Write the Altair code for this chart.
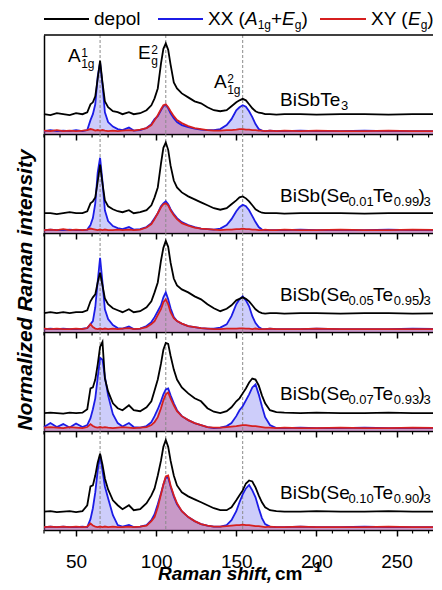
import altair as alt
import pandas as pd

# ---------------- data ----------------
SHIFT = [30, 34, 38, 42, 46, 50, 54, 57, 59, 60.5,
         62, 63.5, 65, 66.5, 68, 70, 73, 76, 79, 83,
         86, 90, 94, 97, 99, 101, 103, 104.5, 106, 107.5,
         109, 111, 113, 116, 120, 124, 128, 132, 136, 140,
         144, 147, 150, 152, 154, 156, 158, 160, 162, 164,
         166, 168, 171, 175, 180, 190, 200, 215, 230, 245, 260, 279]

DEPOL_1 = [0.20, 0.19, 0.21, 0.20, 0.19, 0.21, 0.20, 0.22, 0.30, 0.32,
           0.38, 0.56, 0.74, 0.52, 0.33, 0.27, 0.23, 0.22, 0.20, 0.22,
           0.20, 0.21, 0.24, 0.29, 0.36, 0.46, 0.71, 0.86, 0.915, 0.85,
           0.70, 0.52, 0.46, 0.41, 0.37, 0.33, 0.31, 0.27, 0.24, 0.23,
           0.24, 0.28, 0.32, 0.34, 0.355, 0.34, 0.30, 0.26, 0.23, 0.215,
           0.21, 0.20, 0.20, 0.195, 0.20, 0.20, 0.195, 0.20, 0.20, 0.195, 0.20, 0.20]
XX_1 = [0.03, 0.04, 0.03, 0.035, 0.03, 0.04, 0.03, 0.04, 0.14, 0.20,
        0.30, 0.58, 0.72, 0.50, 0.22, 0.12, 0.075, 0.05, 0.04, 0.065,
        0.035, 0.04, 0.06, 0.10, 0.15, 0.18, 0.24, 0.28, 0.295, 0.26,
        0.21, 0.16, 0.12, 0.09, 0.07, 0.055, 0.045, 0.04, 0.04, 0.05,
        0.09, 0.15, 0.24, 0.27, 0.29, 0.275, 0.23, 0.17, 0.10, 0.05,
        0.035, 0.03, 0.035, 0.03, 0.03, 0.035, 0.03, 0.03, 0.035, 0.03, 0.03, 0.03]
XY_1 = [0.035, 0.03, 0.04, 0.03, 0.035, 0.03, 0.035, 0.04, 0.05, 0.045,
        0.035, 0.04, 0.035, 0.04, 0.035, 0.03, 0.035, 0.03, 0.035, 0.04,
        0.035, 0.045, 0.06, 0.09, 0.14, 0.19, 0.25, 0.29, 0.30, 0.27,
        0.23, 0.18, 0.14, 0.11, 0.08, 0.06, 0.05, 0.04, 0.035, 0.035,
        0.04, 0.04, 0.045, 0.05, 0.05, 0.045, 0.045, 0.04, 0.04, 0.035,
        0.035, 0.03, 0.035, 0.03, 0.035, 0.03, 0.035, 0.03, 0.03, 0.035, 0.03, 0.03]

DEPOL_2 = [0.20, 0.20, 0.19, 0.20, 0.21, 0.20, 0.20, 0.22, 0.30, 0.32,
           0.36, 0.52, 0.69, 0.50, 0.33, 0.27, 0.24, 0.22, 0.21, 0.23,
           0.20, 0.21, 0.23, 0.28, 0.36, 0.46, 0.70, 0.86, 0.915, 0.84,
           0.68, 0.53, 0.46, 0.41, 0.37, 0.34, 0.31, 0.28, 0.25, 0.235,
           0.25, 0.29, 0.33, 0.36, 0.37, 0.35, 0.32, 0.28, 0.24, 0.22,
           0.205, 0.20, 0.20, 0.20, 0.195, 0.20, 0.20, 0.20, 0.195, 0.20, 0.20, 0.20]
XX_2 = [0.03, 0.035, 0.03, 0.03, 0.035, 0.03, 0.03, 0.035, 0.08, 0.15,
        0.30, 0.61, 0.76, 0.52, 0.23, 0.12, 0.07, 0.05, 0.04, 0.06,
        0.035, 0.04, 0.06, 0.10, 0.15, 0.20, 0.27, 0.30, 0.32, 0.29,
        0.24, 0.19, 0.15, 0.11, 0.08, 0.06, 0.045, 0.04, 0.035, 0.045,
        0.08, 0.14, 0.22, 0.26, 0.285, 0.27, 0.23, 0.17, 0.11, 0.06,
        0.035, 0.03, 0.03, 0.03, 0.03, 0.035, 0.03, 0.03, 0.03, 0.035, 0.03, 0.03]
XY_2 = [0.03, 0.035, 0.03, 0.04, 0.03, 0.035, 0.03, 0.035, 0.045, 0.04,
        0.035, 0.03, 0.035, 0.03, 0.035, 0.03, 0.03, 0.035, 0.03, 0.035,
        0.03, 0.035, 0.055, 0.09, 0.14, 0.20, 0.26, 0.29, 0.30, 0.28,
        0.23, 0.18, 0.14, 0.10, 0.075, 0.055, 0.045, 0.04, 0.035, 0.03,
        0.035, 0.035, 0.04, 0.04, 0.045, 0.04, 0.04, 0.035, 0.035, 0.03,
        0.03, 0.035, 0.03, 0.03, 0.035, 0.03, 0.03, 0.035, 0.03, 0.03, 0.035, 0.03]

DEPOL_3 = [0.19, 0.20, 0.19, 0.20, 0.19, 0.20, 0.20, 0.22, 0.31, 0.35,
           0.38, 0.50, 0.60, 0.47, 0.34, 0.28, 0.24, 0.22, 0.20, 0.23,
           0.20, 0.21, 0.25, 0.31, 0.40, 0.50, 0.72, 0.85, 0.92, 0.86,
           0.70, 0.54, 0.47, 0.43, 0.40, 0.36, 0.33, 0.28, 0.24, 0.21,
           0.235, 0.27, 0.32, 0.335, 0.35, 0.335, 0.31, 0.27, 0.23, 0.205,
           0.19, 0.185, 0.19, 0.19, 0.185, 0.19, 0.19, 0.185, 0.19, 0.19, 0.185, 0.19]
XX_3 = [0.03, 0.035, 0.03, 0.035, 0.03, 0.03, 0.035, 0.04, 0.08, 0.11,
        0.25, 0.51, 0.75, 0.50, 0.23, 0.13, 0.07, 0.04, 0.035, 0.055,
        0.03, 0.035, 0.06, 0.10, 0.15, 0.21, 0.27, 0.35, 0.40, 0.33,
        0.24, 0.15, 0.11, 0.085, 0.06, 0.05, 0.04, 0.035, 0.035, 0.044,
        0.077, 0.16, 0.28, 0.33, 0.36, 0.32, 0.26, 0.16, 0.09, 0.05,
        0.03, 0.03, 0.035, 0.03, 0.03, 0.03, 0.035, 0.03, 0.03, 0.03, 0.035, 0.03]
XY_3 = [0.035, 0.03, 0.035, 0.03, 0.03, 0.035, 0.03, 0.04, 0.08, 0.05,
        0.035, 0.03, 0.035, 0.03, 0.035, 0.03, 0.035, 0.03, 0.035, 0.04,
        0.03, 0.035, 0.05, 0.08, 0.11, 0.17, 0.23, 0.30, 0.33, 0.28,
        0.20, 0.14, 0.11, 0.085, 0.06, 0.05, 0.04, 0.035, 0.03, 0.03,
        0.035, 0.035, 0.035, 0.037, 0.037, 0.035, 0.035, 0.03, 0.035, 0.03,
        0.03, 0.03, 0.035, 0.03, 0.03, 0.03, 0.035, 0.03, 0.03, 0.03, 0.03, 0.03]

DEPOL_4 = [0.18, 0.185, 0.18, 0.175, 0.185, 0.18, 0.185, 0.22, 0.43, 0.44,
           0.52, 0.67, 0.85, 0.90, 0.53, 0.40, 0.28, 0.23, 0.21, 0.26,
           0.21, 0.20, 0.24, 0.30, 0.41, 0.52, 0.68, 0.82, 0.89, 0.88,
           0.76, 0.62, 0.52, 0.44, 0.38, 0.33, 0.30, 0.23, 0.195, 0.18,
           0.20, 0.24, 0.30, 0.33, 0.38, 0.43, 0.49, 0.53, 0.52, 0.46,
           0.36, 0.28, 0.21, 0.19, 0.185, 0.18, 0.185, 0.18, 0.18, 0.185, 0.18, 0.18]
XX_4 = [0.04, 0.08, 0.04, 0.07, 0.035, 0.075, 0.04, 0.06, 0.13, 0.22,
        0.33, 0.54, 0.74, 0.72, 0.55, 0.36, 0.17, 0.08, 0.045, 0.08,
        0.04, 0.035, 0.05, 0.09, 0.15, 0.22, 0.30, 0.37, 0.42, 0.43,
        0.36, 0.28, 0.21, 0.15, 0.11, 0.08, 0.06, 0.04, 0.03, 0.035,
        0.05, 0.08, 0.15, 0.21, 0.25, 0.31, 0.37, 0.44, 0.47, 0.37,
        0.25, 0.14, 0.06, 0.03, 0.03, 0.035, 0.03, 0.03, 0.035, 0.03, 0.03, 0.03]
XY_4 = [0.035, 0.04, 0.035, 0.03, 0.04, 0.035, 0.03, 0.04, 0.07, 0.05,
        0.04, 0.035, 0.04, 0.035, 0.04, 0.035, 0.03, 0.035, 0.04, 0.035,
        0.03, 0.035, 0.04, 0.06, 0.09, 0.14, 0.23, 0.31, 0.37, 0.39,
        0.33, 0.26, 0.20, 0.15, 0.11, 0.08, 0.06, 0.04, 0.035, 0.035,
        0.04, 0.045, 0.05, 0.055, 0.06, 0.06, 0.055, 0.05, 0.05, 0.045,
        0.04, 0.035, 0.035, 0.03, 0.035, 0.03, 0.03, 0.035, 0.03, 0.03, 0.035, 0.03]

DEPOL_5 = [0.185, 0.19, 0.18, 0.185, 0.19, 0.18, 0.19, 0.25, 0.44, 0.45,
           0.55, 0.68, 0.77, 0.66, 0.52, 0.41, 0.30, 0.25, 0.21, 0.25,
           0.20, 0.21, 0.27, 0.35, 0.42, 0.55, 0.70, 0.84, 0.91, 0.84,
           0.70, 0.55, 0.45, 0.38, 0.34, 0.31, 0.28, 0.25, 0.22, 0.20,
           0.20, 0.23, 0.30, 0.35, 0.40, 0.47, 0.50, 0.49, 0.43, 0.35,
           0.28, 0.23, 0.20, 0.19, 0.185, 0.185, 0.19, 0.185, 0.185, 0.19, 0.185, 0.185]
XX_5 = [0.03, 0.035, 0.03, 0.035, 0.03, 0.03, 0.035, 0.03, 0.11, 0.22,
        0.38, 0.60, 0.76, 0.60, 0.44, 0.32, 0.15, 0.05, 0.035, 0.05,
        0.03, 0.035, 0.05, 0.10, 0.16, 0.26, 0.37, 0.46, 0.53, 0.53,
        0.44, 0.34, 0.26, 0.19, 0.13, 0.09, 0.06, 0.045, 0.035, 0.035,
        0.05, 0.10, 0.19, 0.28, 0.36, 0.42, 0.455, 0.40, 0.33, 0.22,
        0.12, 0.06, 0.035, 0.03, 0.03, 0.035, 0.03, 0.03, 0.035, 0.03, 0.03, 0.03]
XY_5 = [0.03, 0.035, 0.03, 0.035, 0.03, 0.035, 0.03, 0.035, 0.065, 0.045,
        0.035, 0.03, 0.035, 0.03, 0.035, 0.03, 0.035, 0.03, 0.03, 0.035,
        0.03, 0.035, 0.045, 0.09, 0.13, 0.23, 0.36, 0.46, 0.54, 0.55,
        0.45, 0.35, 0.27, 0.19, 0.13, 0.09, 0.06, 0.045, 0.035, 0.035,
        0.04, 0.045, 0.05, 0.05, 0.055, 0.05, 0.05, 0.045, 0.04, 0.04,
        0.035, 0.03, 0.035, 0.03, 0.03, 0.035, 0.03, 0.03, 0.03, 0.035, 0.03, 0.03]

SERIES = [(DEPOL_1, XX_1, XY_1), (DEPOL_2, XX_2, XY_2), (DEPOL_3, XX_3, XY_3),
          (DEPOL_4, XX_4, XY_4), (DEPOL_5, XX_5, XY_5)]

# sample labels: (text, subscript?) pieces
SAMPLE_LABELS = [
    [("BiSbTe", False), ("3", True)],
    [("BiSb(Se", False), ("0.01", True), ("Te", False), ("0.99", True), (")", False), ("3", True)],
    [("BiSb(Se", False), ("0.05", True), ("Te", False), ("0.95", True), (")", False), ("3", True)],
    [("BiSb(Se", False), ("0.07", True), ("Te", False), ("0.93", True), (")", False), ("3", True)],
    [("BiSb(Se", False), ("0.10", True), ("Te", False), ("0.90", True), (")", False), ("3", True)],
]

MODES = [65, 106, 154]
MAJOR_TICKS = [50, 100, 150, 200, 250]
MINOR_TICKS = [30, 40, 60, 70, 80, 90, 110, 120, 130, 140, 160, 170, 180, 190,
               210, 220, 230, 240, 260, 270]

# ---------------- styling ----------------
FONT = "Liberation Sans"
W, H = 399, 99
XDOM = [30, 279]
BLACK = "#000000"
BLUE = "#1c1ce6"
RED = "#d61f1f"

CHAR_W = {"B": 667, "i": 222, "S": 667, "b": 556, "(": 333, ")": 333, "e": 556,
          "T": 611, ".": 278, " ": 278, "X": 667, "Y": 667, "A": 667, "E": 667,
          "+": 584, "g": 556, "d": 556, "p": 556, "o": 556, "l": 222}


def tw(s, size):
    return sum(CHAR_W.get(c, 556) for c in s) / 1000.0 * size


DUMMY = pd.DataFrame({"k": [0]})


def txt(text, x, y, size=19, style="normal", weight="normal", angle=0, align="left"):
    return alt.Chart(DUMMY).mark_text(
        text=text, font=FONT, fontSize=size, fontStyle=style, fontWeight=weight,
        align=align, baseline="alphabetic", color=BLACK, angle=angle
    ).encode(x=alt.value(x), y=alt.value(y))


XSCALE = alt.Scale(domain=XDOM, nice=False, zero=False)
YSCALE = alt.Scale(domain=[0, 1], nice=False, zero=False)
YAXIS = alt.Axis(domain=True, domainColor=BLACK, domainWidth=1.5, ticks=False,
                 labels=False, title=None, grid=False)


def xaxis(last):
    return alt.Axis(values=MAJOR_TICKS, tickSize=6, tickWidth=1.5, tickColor=BLACK,
                    domainColor=BLACK, domainWidth=1.5, labels=last, labelFont=FONT,
                    labelFontSize=19, labelColor=BLACK, labelPadding=16,
                    labelFlush=False, title=None, grid=False)


def panel(i):
    depol, xx, xy = SERIES[i]
    last = i == len(SERIES) - 1
    df = pd.DataFrame({"shift": SHIFT, "depol": depol, "xx": xx, "xy": xy})
    X = alt.X("shift:Q", scale=XSCALE, axis=xaxis(last))
    base = alt.Chart(df)
    layers = [
        base.mark_area(color="#5a5af0", opacity=0.3).encode(
            x=X, y=alt.Y("xx:Q", scale=YSCALE, axis=YAXIS)),
        base.mark_area(color="#c03060", opacity=0.33).encode(
            x=X, y=alt.Y("xy:Q", scale=YSCALE, axis=YAXIS)),
        alt.Chart(pd.DataFrame({"mode": MODES})).mark_rule(
            color="#8a8a8a", strokeWidth=1, strokeDash=[3, 2]).encode(
            x=alt.X("mode:Q", scale=XSCALE, axis=xaxis(last))),
        base.mark_line(color=BLUE, strokeWidth=1.8).encode(
            x=X, y=alt.Y("xx:Q", scale=YSCALE, axis=YAXIS)),
        base.mark_line(color=RED, strokeWidth=1.8).encode(
            x=X, y=alt.Y("xy:Q", scale=YSCALE, axis=YAXIS)),
        base.mark_line(color=BLACK, strokeWidth=1.8).encode(
            x=X, y=alt.Y("depol:Q", scale=YSCALE, axis=YAXIS)),
        alt.Chart(pd.DataFrame({"minor": MINOR_TICKS})).mark_rule(
            color=BLACK, strokeWidth=1.2).encode(
            x=alt.X("minor:Q", scale=XSCALE, axis=xaxis(last)),
            y=alt.value(H), y2=alt.value(H + 3.5)),
    ]
    # sample label
    x = 236
    yb = 71 if i == 0 else 68
    for text, sub in SAMPLE_LABELS[i]:
        size = 13 if sub else 19
        layers.append(txt(text, x - (0.8 if sub else 0), yb + (4 if sub else 0), size=size))
        x += tw(text, size) - (1.5 if sub else 0.5)

    if i == 0:
        # top border
        layers.append(alt.Chart(DUMMY).mark_rule(color=BLACK, strokeWidth=1.5).encode(
            x=alt.value(0), x2=alt.value(W), y=alt.value(0)))
        # mode labels
        for (xa, yb2, sup, subt) in [(24, 27, "1", "1g"), (94, 24, "2", "g"), (170, 53, "2", "1g")]:
            main = "A" if subt == "1g" else "E"
            layers.append(txt(main, xa, yb2, size=19))
            xs = xa + tw(main, 19) + 0.5
            layers.append(txt(sup, xs, yb2 - 5, size=12))
            layers.append(txt(subt, xs, yb2 + 6, size=12))
        # legend
        ly, ty = -16, -10
        entries = [
            (0, 45, BLACK, [("depol", 19, 0, "normal")]),
            (114, 159, BLUE, [("XX (", 19, 0, "normal"), ("A", 19, 0, "italic"),
                              ("1g", 12, 4, "normal"), ("+", 19, 0, "normal"),
                              ("E", 19, 0, "italic"), ("g", 12, 4, "normal"),
                              (")", 19, 0, "normal")]),
            (276, 322, RED, [("XY (", 19, 0, "normal"), ("E", 19, 0, "italic"),
                             ("g", 12, 4, "normal"), (")", 19, 0, "normal")]),
        ]
        for x0, x1, col, pieces in entries:
            layers.append(alt.Chart(DUMMY).mark_rule(color=col, strokeWidth=2).encode(
                x=alt.value(x0), x2=alt.value(x1), y=alt.value(ly)))
            px = x1 + 5
            for text, size, dy, style in pieces:
                layers.append(txt(text, px, ty + dy, size=size, style=style))
                px += tw(text, size)
    if i == 2:
        layers.append(txt("Normalized Raman intensity", -12.5, 57, size=21,
                          style="italic", weight="bold", angle=270, align="center"))
    if last:
        layers.append(txt("Raman shift,", 114, 149, size=19, style="italic", weight="bold"))
        layers.append(txt("cm", 231, 149, size=19, weight="bold"))
        layers.append(txt("\u22121", 261, 141, size=15, weight="bold"))
    return alt.layer(*layers).properties(width=W, height=H)


chart = alt.vconcat(*[panel(i) for i in range(5)], spacing=0, bounds="flush").properties(
    padding={"left": 6, "top": 2, "right": -14, "bottom": 0}
).configure_view(stroke=None)

chart.save("out.html", embed_options={"renderer": "svg", "actions": False})
